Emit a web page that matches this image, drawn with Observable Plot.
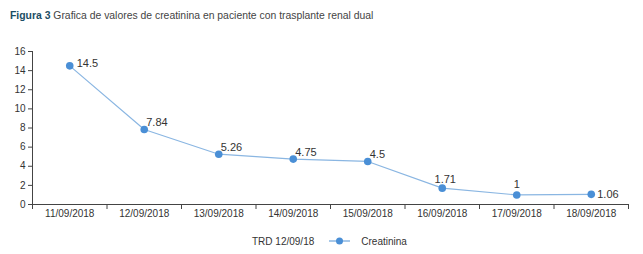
<!DOCTYPE html>
<html><head><meta charset="utf-8">
<script src="https://cdn.jsdelivr.net/npm/d3@7"></script>
<script src="https://cdn.jsdelivr.net/npm/@observablehq/plot@0.6"></script>
<style>
body{margin:0;background:#fff;font-family:"Liberation Sans",Arial,sans-serif;}
#title{height:30px;line-height:32px;padding-left:10px;font-size:10.4px;color:#444;}
#title b{color:#1b4d63;}
#legend{height:22px;display:flex;justify-content:flex-start;align-items:center;padding-left:252px;font-size:10px;color:#333;}
</style></head>
<body>
<div id="title"><b>Figura 3</b> Grafica de valores de creatinina en paciente con trasplante renal dual</div>
<div id="chart"></div>
<div id="legend"><span>TRD 12/09/18</span><svg width="21" height="10" style="margin:0 11px 0 15px"><line x1="0" y1="5" x2="21" y2="5" stroke="#8ab6e2" stroke-width="1.5"/><circle cx="10.5" cy="5" r="3.5" fill="#4a8fd6"/></svg><span>Creatinina</span></div>
<script>
const dates = ["11/09/2018","12/09/2018","13/09/2018","14/09/2018","15/09/2018","16/09/2018","17/09/2018","18/09/2018"];
const creatinina = [14.5, 7.84, 5.26, 4.75, 4.5, 1.71, 1, 1.06];
const yTicks = [0,2,4,6,8,10,12,14,16];

const data = dates.map((d,i)=>({i, pos:i+0.5, date:d, v:creatinina[i]}));
const bounds = d3.range(dates.length+1);
const lab = d => String(d.v);
const textStyle = {x: "pos", y: "v", text: lab, fill: "#333", fontSize: 11};

const chart = Plot.plot({
  width: 643, height: 200,
  marginLeft: 32, marginRight: 15, marginTop: 21, marginBottom: 26,
  style: {fontFamily: '"Liberation Sans", Arial, sans-serif', fontSize: "10px", color: "#333", background: "#fff"},
  x: {type: "linear", domain: [0, dates.length]},
  y: {domain: [0, 16]},
  marks: [
    Plot.axisY({ticks: yTicks, tickSize: 4, tickPadding: 3, label: null, stroke: "#444", fill: "#333"}),
    Plot.axisX({ticks: bounds, tickSize: 5, tickFormat: () => "", label: null, stroke: "#444"}),
    Plot.axisX({ticks: data.map(d=>d.pos), tickSize: 0, tickPadding: 5, tickFormat: p => dates[Math.round(p-0.5)], label: null, fill: "#333"}),
    Plot.ruleX([0], {y1: 0, y2: 16, stroke: "#444"}),
    Plot.ruleY([0], {x1: 0, x2: dates.length, stroke: "#444"}),
    Plot.line(data, {x: "pos", y: "v", stroke: "#8ab6e2", strokeWidth: 1.2}),
    Plot.dot(data, {x: "pos", y: "v", r: 3.8, fill: "#4a8fd6", stroke: "none"}),
    Plot.text(data, {...textStyle, filter: d => d.i === 0, textAnchor: "start", dx: 7, dy: -2}),
    Plot.text(data, {...textStyle, filter: d => d.i >= 1 && d.i <= 4, textAnchor: "start", dx: 2, dy: -7}),
    Plot.text(data, {...textStyle, filter: d => d.i === 5, textAnchor: "middle", dx: 3, dy: -9}),
    Plot.text(data, {...textStyle, filter: d => d.i === 6, textAnchor: "middle", dx: 0, dy: -10}),
    Plot.text(data, {...textStyle, filter: d => d.i === 7, textAnchor: "start", dx: 6, dy: 0})
  ]
});
document.getElementById("chart").appendChild(chart);
</script>
</body></html>
